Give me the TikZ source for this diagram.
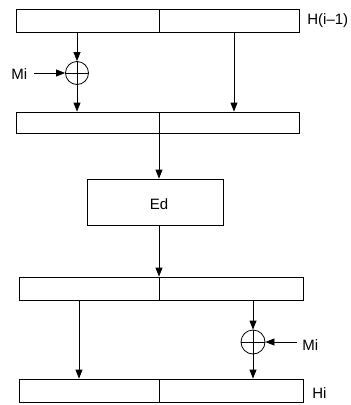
\documentclass[tikz,border=0pt]{standalone}
\usepackage{fontspec}
\setmainfont{Liberation Sans}
\usetikzlibrary{arrows.meta}
\begin{document}
\begin{tikzpicture}[x=1pt,y=-1pt,
  line width=0.8pt,
  every node/.style={font=\fontsize{15}{17}\selectfont},
  half/.style={draw, rectangle, inner sep=0pt, minimum height=#1},
  half/.default=23pt,
  xor/.style={circle, draw, minimum size=23pt, inner sep=0pt,
    path picture={\draw (path picture bounding box.north) -- (path picture bounding box.south)
                        (path picture bounding box.west) -- (path picture bounding box.east);}},
  arr/.style={-{Triangle[length=9pt,width=7pt]}},
  lbl/.style={inner sep=0pt, anchor=west}
]
\useasboundingbox (0,0) rectangle (351,405);

% input register H(i-1)
\node[half, minimum width=143pt] (t1) at (87.5,20.5) {};
\node[half, minimum width=140pt] (t2) at (229,20.5) {};
\node[lbl] (hprev) at (307,21) {H(i–1)};

% first XOR with Mi
\node[xor] (x1) at (77,73) {};
\node[lbl] (m1) at (11,74) {Mi};

% register after first XOR
\node[half=21pt, minimum width=143pt] (s1) at (87.5,122.5) {};
\node[half=21pt, minimum width=140pt] (s2) at (229,122.5) {};

% encryption block
\node[draw, rectangle, minimum width=136pt, minimum height=46pt, inner sep=0pt] (ed) at (155,202) {};
\node (edtxt) at (159,204) {Ed};

% register after Ed
\node[half, minimum width=140pt] (u1) at (89,288.5) {};
\node[half, minimum width=144pt] (u2) at (231,288.5) {};

% second XOR with Mi
\node[xor, minimum size=24pt] (x2) at (253,342) {};
\node[lbl] (m2) at (302,345) {Mi};

% output register Hi
\node[half, minimum width=140pt] (v1) at (89,390.5) {};
\node[half, minimum width=144pt] (v2) at (231,390.5) {};
\node[lbl] (hi) at (312,393) {Hi};

% connectors
\draw[arr] (x1.north |- t1.south) -- (x1.north);
\coordinate (m1s) at (34,0);
\draw[arr] (m1s |- x1.west) -- (x1.west);
\draw[arr] (x1.south) -- (x1.south |- s1.north);
\coordinate (r1) at (234,0);
\draw[arr] (r1 |- t2.south) -- (r1 |- s2.north);
\coordinate (c) at (159,0);
\draw[arr] (c |- s1.south) -- (c |- ed.north);
\draw[arr] (c |- ed.south) -- (c |- u1.north);
\coordinate (l2) at (79,0);
\draw[arr] (l2 |- u1.south) -- (l2 |- v1.north);
\draw[arr] (x2.north |- u2.south) -- (x2.north);
\coordinate (m2s) at (297,0);
\draw[arr] (m2s |- x2.east) -- (x2.east);
\draw[arr] (x2.south) -- (x2.south |- v2.north);
\end{tikzpicture}
\end{document}
